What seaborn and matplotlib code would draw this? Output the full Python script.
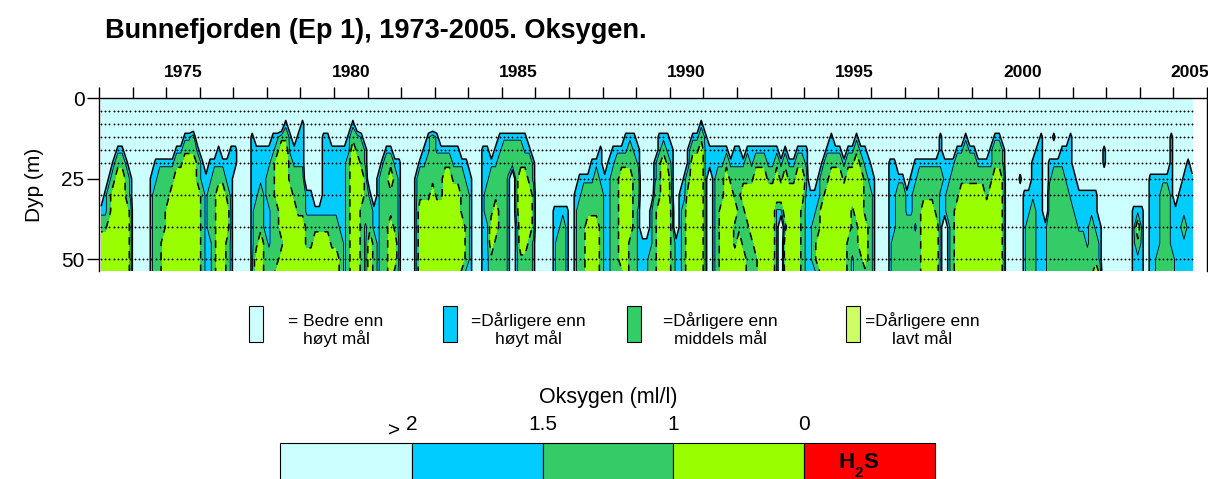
import numpy as np
import pandas as pd
import matplotlib
matplotlib.use('Agg')
import matplotlib.pyplot as plt
import seaborn as sns
from matplotlib.patches import Rectangle
from matplotlib.ticker import FixedLocator, NullFormatter, FixedFormatter

sns.set_theme(style='white')
plt.rcParams['font.family'] = ['Liberation Sans', 'DejaVu Sans']
plt.rcParams['text.color'] = 'black'
plt.rcParams['axes.labelcolor'] = 'black'
plt.rcParams['xtick.color'] = 'black'
plt.rcParams['ytick.color'] = 'black'

# sample depths (m); each year block: one string per depth, 8 columns per year
# codes: 0 = >2 ml/l, 1 = 1.5-2, 2 = 1-1.5, 3 = 0-1
depth_m = [0, 4, 8, 12, 16, 20, 25, 30, 35, 40, 45, 50, 54]
cols_per_year = 8
first_year = 1973

o2_1973 = ["00000000", "00000000", "00000000", "00000000", "00001100", "00012210", "00123321",
           "01233321", "11233332", "22333332", "33333332", "33333332", "33333332"]
o2_1974 = ["00000000", "00000000", "00000000", "00000000", "00000000", "00000111", "00001122",
           "00001222", "00001222", "00001222", "00001223", "00001223", "00001223"]
o2_1975 = ["00000000", "00000000", "00000000", "00001120", "00112221", "11223332", "22333332",
           "23333333", "33333333", "33333333", "33333333", "33333333", "33333333"]
o2_1976 = ["00000000", "00000000", "00000000", "00000000", "00001001", "10111111", "11122211",
           "21223321", "21223331", "21223331", "21123321", "21123321", "21123321"]
o2_1977 = ["00000000", "00000000", "00000000", "00001000", "10001111", "10001111", "00001111",
           "00001121", "00001221", "00001221", "00001232", "00001332", "00001332"]
o2_1978 = ["00000000", "00000000", "00001000", "01122101", "11233111", "12333211", "22333222",
           "22333322", "12233332", "12233333", "12223333", "22233333", "22333333"]
o2_1979 = ["00000000", "00000000", "10000000", "10000110", "10000111", "10000111", "20000111",
           "21100111", "21111111", "32222222", "32233332", "33333333", "33333333"]
o2_1980 = ["00000000", "00000000", "00001000", "00012210", "11113221", "11123321", "11123332",
           "11123332", "11123322", "21123321", "22123321", "32123321", "32123321"]
o2_1981 = ["00000000", "00000000", "00000000", "00000000", "00001100", "00012211", "00122321",
           "10122221", "21122221", "21122321", "32122331", "32122331", "32122321"]
o2_1982 = ["00000000", "00000000", "00000000", "00000012", "00000112", "00001122", "00012222",
           "00012223", "00013333", "00013333", "00013333", "00013333", "00013333"]
o2_1983 = ["00000000", "00000000", "00000000", "10000000", "11111100", "22221111", "22332221",
           "22333322", "33333322", "33333332", "33333332", "33333332", "33333321"]
o2_1984 = ["00000000", "00000000", "00000000", "00000001", "00011011", "00011112", "10011222",
           "10012222", "10012232", "10011332", "10011322", "10011222", "10011222"]
o2_1985 = ["00000000", "00000000", "00000000", "11111100", "22222110", "22222221", "21023321",
           "21023332", "21023332", "21013332", "21013321", "21012221", "21012221"]
o2_1986 = ["00000000", "00000000", "00000000", "00000000", "00000000", "00000000", "00000000",
           "00000000", "00001111", "00001121", "00001221", "00001221", "00001221"]
o2_1987 = ["00000000", "00000000", "00000000", "00000000", "00000001", "00000111", "00111121",
           "01122222", "01222222", "01223332", "01223332", "01223332", "01223332"]
o2_1988 = ["00000000", "00000000", "00000000", "00000111", "00111121", "01122222", "11223332",
           "11223332", "11223332", "11223332", "11223322", "11223322", "11222322"]
o2_1989 = ["00000000", "00000000", "00000000", "00000111", "10000121", "10001232", "20001233",
           "20002233", "10012333", "10012333", "11112333", "11122333", "11122333"]
o2_1990 = ["00000000", "00000000", "00000001", "00000112", "10001223", "10001333", "10012333",
           "10113333", "20123333", "20123333", "21123333", "21123333", "21123333"]
o2_1991 = ["00000000", "00000000", "00000000", "10000000", "11111101", "11111211", "10122322",
           "10122332", "10123333", "10123332", "10123332", "10123333", "10123333"]
o2_1992 = ["00000000", "00000000", "00000000", "00000000", "10111111", "11212221", "22223332",
           "23333333", "22333333", "22233333", "32223333", "33222333", "33222333"]
o2_1993 = ["00000000", "00000000", "00000000", "00000000", "11010011", "12121122", "23232233",
           "33333333", "31133332", "31023332", "31033332", "31033332", "31033332"]
o2_1994 = ["00000000", "00000000", "00000000", "00000010", "10000111", "10001222", "20012233",
           "11112333", "11123333", "11223333", "11233333", "11233333", "11123333"]
o2_1995 = ["00000000", "00000000", "00000000", "00001000", "10112110", "21223211", "32333321",
           "33333322", "33323322", "33322332", "33222332", "33212232", "33212222"]
o2_1996 = ["00000000", "00000000", "00000000", "00000000", "00000000", "00001100", "10001111",
           "10001122", "10001122", "10001122", "10001222", "10001222", "10001222"]
o2_1997 = ["00000000", "00000000", "00000000", "00000000", "00000000", "00111111", "01122222",
           "11222222", "11223332", "22123333", "22223333", "22223333", "22223333"]
o2_1998 = ["00000000", "00000000", "00000000", "10000010", "10001121", "11112222", "21122222",
           "11222333", "11223333", "10123333", "10123333", "10123333", "10123333"]
o2_1999 = ["00000000", "00000000", "00000000", "00000110", "10001221", "21111221", "22222332",
           "33323332", "33333332", "33333332", "33333332", "33333332", "33333332"]
o2_2000 = ["00000000", "00000000", "00000000", "00000000", "00000001", "00000011", "00010011",
           "00001111", "00001121", "00001221", "00001221", "00001221", "00001221"]
o2_2001 = ["00000000", "00000000", "00000000", "10010001", "10000111", "10111111", "10122211",
           "10222221", "10222222", "11222222", "11222222", "11222222", "11222222"]
o2_2002 = ["00000000", "00000000", "00000000", "00000000", "00000001", "00000001", "10000000",
           "11111100", "11111100", "21112110", "22212210", "22222210", "22222320"]
o2_2003 = ["00000000", "00000000", "00000000", "00000000", "00000000", "00000000", "00000000",
           "00000000", "00000011", "00000013", "00000012", "00000011", "00000011"]
o2_2004 = ["00000000", "00000000", "00000000", "00000001", "00000001", "00000001", "00111111",
           "00111221", "10111221", "10111221", "10111221", "10112222", "10112222"]
o2_2005 = ["00000", "00000", "00000", "00000", "00000", "00010", "00111",
           "01111", "11111", "11211", "11111", "11111", "11111"]

year_blocks = [o2_1973, o2_1974, o2_1975, o2_1976, o2_1977, o2_1978, o2_1979, o2_1980,
               o2_1981, o2_1982, o2_1983, o2_1984, o2_1985, o2_1986, o2_1987, o2_1988,
               o2_1989, o2_1990, o2_1991, o2_1992, o2_1993, o2_1994, o2_1995, o2_1996,
               o2_1997, o2_1998, o2_1999, o2_2000, o2_2001, o2_2002, o2_2003, o2_2004,
               o2_2005]

# representative oxygen value (ml/l) for each class
class_value = {'0': 3.0, '1': 1.6, '2': 1.2, '3': 0.5}

# depths with sampling marks; 25 m sampled from 1986.4 on
dot_depths = [4, 8, 12, 16, 20, 30, 40, 50]
dot25_start = 1986.4

year_ticks = list(range(1973, 2007))
year_labels = [1975, 1980, 1985, 1990, 1995, 2000, 2005]

c_cyan, c_blue, c_green, c_lime, c_red = '#CCFFFF', '#00CCFF', '#33CC66', '#99FF00', '#FF0000'

rows = [''.join(b[i] for b in year_blocks) for i in range(len(depth_m))]
o2 = np.array([[class_value[c] for c in r] for r in rows])
ncol = o2.shape[1]
t = first_year + (np.arange(ncol) + 0.5) / cols_per_year

W, H = 1208, 479
fig = plt.figure(figsize=(W / 100, H / 100), dpi=100)
fig.patch.set_facecolor('white')


def fx(x):
    return x / W


def fy(y):
    return 1 - y / H


ax = fig.add_axes([fx(99), fy(270.7), (1207 - 99) / W, (270.7 - 98.3) / H])
ax.set_facecolor('white')
ax.contourf(t, depth_m, o2, levels=[0, 1.0, 1.5, 2.0, 5.0],
            colors=[c_lime, c_green, c_blue, c_cyan])
ax.contour(t, depth_m, o2, levels=[2.0], colors='black', linewidths=1.1)
ax.contour(t, depth_m, o2, levels=[1.5], colors='black', linewidths=0.6)
ax.contour(t, depth_m, o2, levels=[1.0], colors='black', linewidths=1.1,
           linestyles=[(0, (5, 4))])

dots = pd.DataFrame([(tt, d) for d in dot_depths for tt in t] +
                    [(tt, 25) for tt in t if tt >= dot25_start], columns=['year', 'depth'])
sns.scatterplot(data=dots, x='year', y='depth', marker='+', s=4, color='black',
                linewidth=0.6, ax=ax, legend=False, zorder=5)

ax.set_xlim(1973, 2006)
ax.set_ylim(53.5, 0)
ax.xaxis.tick_top()
ax.xaxis.set_major_locator(FixedLocator(year_ticks))
ax.xaxis.set_major_formatter(NullFormatter())
ax.xaxis.set_minor_locator(FixedLocator([y + 0.5 for y in year_labels]))
ax.xaxis.set_minor_formatter(FixedFormatter([str(y) for y in year_labels]))
ax.tick_params(axis='x', which='major', top=True, bottom=False, direction='out',
               length=8, width=1, color='black')
ax.tick_params(axis='x', which='minor', top=True, bottom=False, length=0,
               labelsize=12.5, pad=13, labelcolor='black')
for lab in ax.get_xticklabels(minor=True):
    lab.set_fontweight('bold')
ax.set_yticks([0, 25, 50])
ax.tick_params(axis='y', left=True, direction='out', length=8.5, width=1,
               labelsize=15, color='black', pad=2)
ax.set_xlabel('')
ax.set_ylabel('Dyp (m)', fontsize=15, labelpad=12)
for side in ['top', 'left', 'right']:
    ax.spines[side].set_visible(True)
    ax.spines[side].set_color('black')
    ax.spines[side].set_linewidth(1)
ax.spines['bottom'].set_visible(False)

fig.text(fx(105), fy(31), 'Bunnefjorden (Ep 1), 1973-2005. Oksygen.', fontsize=19.5,
         fontweight='bold', ha='left', va='center')

# class legend
legend_items = [(249, c_cyan, '= Bedre enn', 'høyt mål', 336),
                (443, c_blue, '=Dårligere enn', 'høyt mål', 528),
                (627, c_green, '=Dårligere enn', 'middels mål', 720),
                (846, '#CCFF66', '=Dårligere enn', 'lavt mål', 922)]
for x0, col, l1, l2, xc in legend_items:
    fig.add_artist(Rectangle((fx(x0), fy(342)), 14 / W, 36 / H, transform=fig.transFigure,
                             facecolor=col, edgecolor='black', linewidth=0.8))
    fig.text(fx(xc), fy(321), l1, fontsize=12.5, ha='center', va='center')
    fig.text(fx(xc), fy(339), l2, fontsize=12.5, ha='center', va='center')

# colour scale
fig.text(fx(608), fy(398), 'Oksygen (ml/l)', fontsize=15.5, ha='center', va='center')
scale_edges = [280, 412, 543, 673, 804, 935]
scale_colors = [c_cyan, c_blue, c_green, c_lime, c_red]
for i, col in enumerate(scale_colors):
    fig.add_artist(Rectangle((fx(scale_edges[i]), fy(490)), (scale_edges[i + 1] - scale_edges[i]) / W,
                             47 / H, transform=fig.transFigure, facecolor=col,
                             edgecolor='black', linewidth=0.8))
for xb, lab in zip(scale_edges[1:5], ['2', '1.5', '1', '0']):
    fig.text(fx(xb), fy(425), lab, fontsize=15, ha='center', va='center')
fig.text(fx(394), fy(431), '>', fontsize=15, ha='center', va='center')
fig.text(fx(847), fy(462), 'H', fontsize=16, fontweight='bold', ha='center', va='center')
fig.text(fx(871), fy(462), 'S', fontsize=16, fontweight='bold', ha='center', va='center')
fig.text(fx(859), fy(473), '2', fontsize=11, fontweight='bold', ha='center', va='center')

fig.savefig('out.png', dpi=100)
